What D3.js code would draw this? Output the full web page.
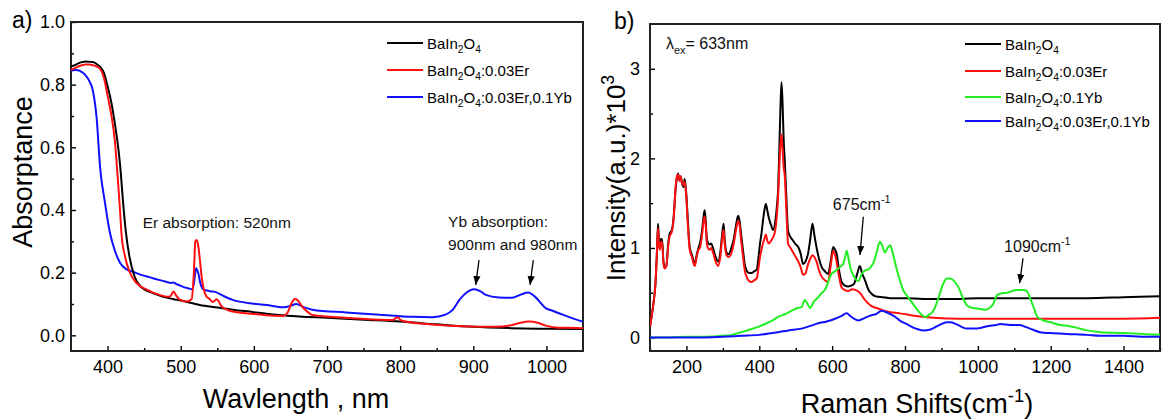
<!DOCTYPE html>
<html>
<head>
<meta charset="utf-8">
<script src="https://cdn.jsdelivr.net/npm/d3@7"></script>
<style>
  html, body { margin: 0; padding: 0; background: #fff; }
  svg { display: block; font-family: "Liberation Sans", Arial, sans-serif; }
</style>
</head>
<body>
<svg id="chart" width="1163" height="420"></svg>
<script>
// ---------- Panel a: absorption spectra (wavelength nm, absorptance) ----------
const absWavelengthTicks = [400, 500, 600, 700, 800, 900, 1000];
const absValueTicks = [0.0, 0.2, 0.4, 0.6, 0.8, 1.0];

const absBaIn2O4 = [
  [350,0.858],[355,0.862],[360,0.868],[365,0.872],[370,0.874],[375,0.873],[380,0.872],[385,0.866],
  [390,0.856],[395,0.838],[400,0.795],[405,0.745],[410,0.675],[415,0.59],[418,0.52],[421,0.43],
  [425,0.33],[430,0.25],[437,0.187],[446,0.154],[454,0.142],[462,0.135],[475,0.124],[489,0.116],
  [500,0.111],[526,0.097],[550,0.089],[571,0.082],[600,0.074],[617,0.069],[640,0.064],[662,0.06],
  [700,0.056],[750,0.05],[800,0.044],[850,0.035],[900,0.027],[950,0.023],[1000,0.021],[1050,0.02]
];
const absEr = [
  [350,0.848],[355,0.852],[360,0.858],[365,0.862],[370,0.864],[375,0.864],[380,0.862],[385,0.858],
  [390,0.85],[395,0.822],[400,0.765],[405,0.705],[410,0.62],[414,0.5],[417,0.4],[419,0.325],
  [424,0.25],[430,0.203],[440,0.166],[453,0.147],[471,0.129],[482,0.123],[486,0.125],[490,0.14],
  [494,0.126],[498,0.115],[508,0.108],[515,0.116],[518,0.2],[520,0.3],[522,0.304],[524,0.285],
  [526,0.246],[529,0.18],[531,0.152],[535,0.125],[539,0.117],[544,0.106],[549,0.115],[552,0.108],
  [556,0.092],[571,0.076],[600,0.068],[617,0.064],[640,0.062],[646,0.072],[651,0.1],[656,0.116],
  [660,0.112],[665,0.095],[671,0.08],[681,0.064],[700,0.06],[726,0.056],[772,0.05],[790,0.049],
  [794,0.055],[797,0.058],[800,0.05],[804,0.046],[840,0.035],[885,0.029],[931,0.027],[953,0.033],
  [966,0.041],[976,0.044],[988,0.04],[999,0.031],[1012,0.025],[1030,0.024],[1050,0.023]
];
const absErYb = [
  [350,0.845],[355,0.847],[360,0.846],[365,0.84],[370,0.83],[375,0.812],[380,0.78],[385,0.695],
  [390,0.53],[396,0.43],[403,0.33],[410,0.27],[417,0.232],[425,0.212],[435,0.203],[446,0.193],
  [458,0.185],[470,0.177],[480,0.171],[487,0.167],[490,0.169],[493,0.165],[500,0.158],[510,0.15],
  [515,0.147],[518,0.165],[521,0.214],[524,0.198],[527,0.165],[531,0.147],[540,0.141],[549,0.137],
  [553,0.132],[560,0.124],[571,0.113],[600,0.101],[617,0.097],[640,0.09],[650,0.094],[658,0.1],
  [668,0.09],[680,0.082],[726,0.073],[772,0.066],[817,0.059],[844,0.058],[862,0.066],[872,0.082],
  [881,0.113],[890,0.135],[901,0.147],[910,0.14],[917,0.129],[935,0.121],[953,0.12],[965,0.13],
  [975,0.137],[985,0.122],[999,0.087],[1010,0.077],[1022,0.066],[1035,0.055],[1050,0.043]
];

// ---------- Panel b: Raman spectra (shift cm-1, intensity x10^3) ----------
const ramanShiftTicks = [200, 400, 600, 800, 1000, 1200, 1400];
const ramanValueTicks = [0, 1, 2, 3];

const ramanBaIn2O4 = [
  [100,0.12],[105,0.25],[110,0.4],[115,0.6],[119,0.95],[122,1.27],[125,1.05],[127,1.0],[130,1.1],
  [133,1.1],[137,0.85],[140,0.78],[145,0.8],[150,1.05],[154,1.16],[160,1.2],[165,1.35],[170,1.65],
  [173,1.76],[177,1.83],[181,1.75],[184,1.8],[188,1.72],[192,1.68],[195,1.77],[198,1.68],[200,1.58],
  [204,1.3],[209,1.01],[215,0.92],[220,0.85],[223,0.82],[228,0.92],[233,1.0],[237,1.05],[243,1.2],
  [247,1.35],[250,1.42],[253,1.3],[256,1.1],[259,1.06],[264,1.04],[268,1.05],[273,1.0],[280,0.9],
  [287,0.85],[293,0.95],[298,1.15],[302,1.27],[305,1.1],[310,0.95],[316,0.93],[324,1.01],[330,1.1],
  [336,1.25],[342,1.36],[346,1.3],[351,1.12],[356,0.95],[360,0.82],[365,0.75],[372,0.72],[379,0.72],
  [386,0.74],[393,0.76],[398,0.9],[402,1.05],[406,1.16],[410,1.3],[414,1.42],[418,1.49],[422,1.42],
  [426,1.34],[432,1.26],[438,1.2],[444,1.3],[448,1.45],[452,1.68],[455,2.1],[458,2.55],[461,2.85],
  [464,2.6],[467,2.2],[470,1.97],[474,1.6],[479,1.19],[486,1.12],[493,1.08],[500,1.04],[507,1.01],
  [514,0.93],[520,0.82],[527,0.85],[534,0.94],[540,1.1],[546,1.27],[551,1.15],[557,1.01],[564,0.88],
  [571,0.79],[580,0.74],[589,0.71],[596,0.85],[603,1.01],[608,0.98],[612,0.94],[619,0.75],[626,0.62],
  [635,0.58],[644,0.57],[652,0.58],[660,0.6],[668,0.7],[676,0.8],[682,0.72],[690,0.64],[700,0.53],
  [708,0.49],[720,0.46],[740,0.45],[760,0.44],[800,0.44],[850,0.43],[900,0.43],[950,0.43],
  [1000,0.44],[1100,0.44],[1200,0.44],[1300,0.44],[1400,0.45],[1500,0.46]
];
const ramanEr = [
  [100,0.12],[105,0.25],[110,0.4],[115,0.6],[119,0.95],[122,1.22],[125,1.02],[127,0.98],[130,1.06],
  [133,1.07],[137,0.83],[140,0.77],[145,0.8],[150,1.02],[154,1.13],[160,1.18],[165,1.33],[170,1.65],
  [173,1.78],[177,1.82],[181,1.75],[184,1.8],[188,1.72],[192,1.7],[195,1.74],[198,1.66],[200,1.55],
  [204,1.25],[209,0.98],[215,0.9],[220,0.82],[223,0.8],[228,0.9],[233,0.98],[237,1.0],[243,1.15],
  [247,1.3],[250,1.35],[253,1.25],[256,1.05],[259,1.0],[264,0.98],[268,1.0],[273,0.95],[280,0.85],
  [287,0.8],[293,0.9],[298,1.1],[302,1.2],[305,1.05],[310,0.92],[316,0.9],[324,0.95],[330,1.05],
  [336,1.2],[342,1.3],[346,1.25],[351,1.05],[356,0.88],[360,0.75],[365,0.68],[372,0.63],[379,0.62],
  [386,0.64],[393,0.66],[398,0.78],[402,0.9],[406,0.98],[410,1.05],[414,1.1],[418,1.15],[422,1.08],
  [426,1.05],[432,1.08],[438,1.12],[444,1.2],[448,1.35],[452,1.6],[455,1.9],[458,2.15],[461,2.27],
  [464,2.1],[467,1.9],[470,1.8],[474,1.45],[479,1.05],[486,1.0],[493,0.95],[500,0.9],[507,0.85],
  [514,0.78],[520,0.7],[527,0.72],[534,0.82],[540,0.88],[546,0.92],[551,0.9],[557,0.85],[564,0.75],
  [571,0.68],[580,0.64],[589,0.62],[596,0.8],[603,0.97],[608,0.92],[612,0.85],[619,0.68],[626,0.56],
  [635,0.53],[644,0.52],[655,0.54],[665,0.53],[676,0.5],[690,0.42],[708,0.35],[722,0.33],[750,0.29],
  [786,0.27],[830,0.24],[877,0.22],[950,0.21],[1000,0.21],[1100,0.21],[1200,0.21],[1300,0.21],
  [1400,0.21],[1500,0.22]
];
const ramanYb = [
  [100,0.0],[150,0.0],[200,0.01],[250,0.01],[300,0.02],[324,0.03],[350,0.06],[375,0.09],[397,0.12],
  [420,0.16],[440,0.2],[452,0.23],[470,0.26],[489,0.3],[505,0.33],[516,0.34],[525,0.42],[532,0.38],
  [539,0.33],[550,0.4],[562,0.45],[572,0.5],[580,0.53],[590,0.63],[598,0.71],[608,0.74],[617,0.77],
  [625,0.8],[630,0.82],[636,0.9],[640,0.97],[645,0.88],[650,0.78],[660,0.68],[667,0.64],[672,0.63],
  [680,0.7],[690,0.75],[700,0.76],[708,0.8],[715,0.85],[722,0.95],[731,1.07],[738,1.02],[745,0.95],
  [752,1.0],[759,1.03],[766,0.95],[775,0.8],[786,0.64],[795,0.53],[805,0.47],[814,0.42],[830,0.33],
  [842,0.27],[855,0.23],[868,0.26],[878,0.3],[890,0.42],[905,0.6],[915,0.66],[924,0.66],[935,0.63],
  [947,0.56],[958,0.45],[970,0.36],[985,0.33],[1006,0.32],[1020,0.31],[1035,0.34],[1043,0.38],
  [1052,0.47],[1061,0.49],[1080,0.5],[1107,0.53],[1125,0.53],[1134,0.52],[1145,0.42],[1153,0.34],
  [1162,0.24],[1175,0.2],[1200,0.17],[1226,0.14],[1250,0.13],[1280,0.1],[1300,0.08],[1336,0.06],
  [1400,0.05],[1450,0.04],[1500,0.03]
];
const ramanErYb = [
  [100,0.0],[200,0.0],[300,0.01],[350,0.02],[400,0.03],[452,0.06],[480,0.08],[516,0.1],[540,0.13],
  [562,0.16],[585,0.18],[608,0.21],[625,0.24],[640,0.27],[650,0.24],[660,0.21],[672,0.19],[690,0.22],
  [708,0.25],[720,0.26],[736,0.3],[750,0.28],[770,0.24],[786,0.19],[805,0.15],[830,0.1],[850,0.08],
  [870,0.09],[890,0.13],[905,0.16],[915,0.17],[924,0.17],[940,0.15],[955,0.12],[970,0.1],[990,0.1],
  [1010,0.11],[1030,0.13],[1050,0.14],[1061,0.15],[1090,0.14],[1115,0.14],[1130,0.12],[1150,0.09],
  [1171,0.06],[1200,0.05],[1244,0.04],[1300,0.03],[1336,0.02],[1400,0.02],[1450,0.01],[1500,0.01]
];

// ---------- drawing ----------
const FONT = "Liberation Sans, Arial, sans-serif";
const svg = d3.select("#chart");
svg.append("rect").attr("width", 1163).attr("height", 420).attr("fill", "#fff");

svg.append("defs").append("marker")
  .attr("id", "arrowhead").attr("viewBox", "0 0 10 10")
  .attr("refX", 10).attr("refY", 5)
  .attr("markerWidth", 9).attr("markerHeight", 9)
  .attr("markerUnits", "userSpaceOnUse")
  .attr("orient", "auto")
  .append("path").attr("d", "M0,1 L10,5 L0,9 Z").attr("fill", "#000");

// Text with subscript / superscript parts; the baseline is restored after each shifted part
function richText(sel, parts, size) {
  let carry = 0;
  parts.forEach(p => {
    const t = sel.append("tspan").text(p.t);
    let dy = carry;
    carry = 0;
    if (p.sub) { t.attr("font-size", size * 0.68); dy += size * 0.32; carry = -size * 0.32; }
    if (p.sup) { t.attr("font-size", size * 0.68); dy -= size * 0.42; carry = size * 0.42; }
    if (dy !== 0) t.attr("dy", dy);
  });
}

function drawFrameAndAxes(g, x, y, cfg) {
  const [x0, x1] = x.range();
  const [y0, y1] = y.range();
  // ticks point into the plot area
  g.append("g").attr("transform", `translate(0,${y0})`)
    .call(d3.axisBottom(x).tickValues(cfg.xMinor).tickFormat("").tickSizeInner(-3).tickSizeOuter(0))
    .call(a => a.select(".domain").remove());
  g.append("g").attr("transform", `translate(0,${y0})`)
    .call(d3.axisBottom(x).tickValues(cfg.xTicks).tickFormat(cfg.xFormat).tickSizeInner(-5).tickSizeOuter(0).tickPadding(9))
    .call(a => a.select(".domain").remove())
    .call(a => a.selectAll("text").attr("font-size", 18).attr("fill", "#000").attr("font-family", FONT));
  g.append("g").attr("transform", `translate(${x0},0)`)
    .call(d3.axisLeft(y).tickValues(cfg.yMinor).tickFormat("").tickSizeInner(-3).tickSizeOuter(0))
    .call(a => a.select(".domain").remove());
  g.append("g").attr("transform", `translate(${x0},0)`)
    .call(d3.axisLeft(y).tickValues(cfg.yTicks).tickFormat(cfg.yFormat).tickSizeInner(-5).tickSizeOuter(0).tickPadding(cfg.yPad))
    .call(a => a.select(".domain").remove())
    .call(a => a.selectAll("text").attr("font-size", 18).attr("fill", "#000").attr("font-family", FONT));
  g.selectAll(".tick line").attr("stroke", "#000").attr("stroke-width", 1.4);
  g.append("rect")
    .attr("x", x0).attr("y", y1).attr("width", x1 - x0).attr("height", y0 - y1)
    .attr("fill", "none").attr("stroke", "#222").attr("stroke-width", 2);
}

function drawSeries(g, x, y, series, width, clipId) {
  const line = d3.line().x(d => x(d[0])).y(d => y(d[1])).curve(d3.curveMonotoneX);
  g.append("clipPath").attr("id", clipId).append("rect")
    .attr("x", x.range()[0]).attr("y", y.range()[1])
    .attr("width", x.range()[1] - x.range()[0]).attr("height", y.range()[0] - y.range()[1]);
  const lg = g.append("g").attr("clip-path", `url(#${clipId})`);
  series.forEach(s => {
    lg.append("path").datum(s.data).attr("d", line)
      .attr("fill", "none").attr("stroke", s.color).attr("stroke-width", width)
      .attr("stroke-linejoin", "round");
  });
}

function drawLegend(g, items, x, rowsY, len) {
  items.forEach((it, i) => {
    const yy = rowsY[i];
    g.append("line").attr("x1", x).attr("x2", x + len).attr("y1", yy).attr("y2", yy)
      .attr("stroke", it.color).attr("stroke-width", 2);
    const t = g.append("text").attr("x", x + len + 4).attr("y", yy + 5.5)
      .attr("font-size", 15).attr("fill", "#000");
    richText(t, it.label, 15);
  });
}

function formulaLabel(suffix) {
  const parts = [{t: "BaIn"}, {t: "2", sub: true}, {t: "O"}, {t: "4", sub: true}];
  if (suffix) parts.push({t: suffix});
  return parts;
}

const BLACK = "#000", RED = "#ff1010", BLUE = "#1010ff", GREEN = "#22ee22";

// ---- panel a ----
const gA = svg.append("g");
const xA = d3.scaleLinear().domain([350, 1050]).range([71, 583]);
const yA = d3.scaleLinear().domain([-0.05, 1.0]).range([351, 22]);

drawFrameAndAxes(gA, xA, yA, {
  xTicks: absWavelengthTicks, xMinor: [450, 550, 650, 750, 850, 950],
  xFormat: d3.format("d"),
  yTicks: absValueTicks, yMinor: [0.1, 0.3, 0.5, 0.7, 0.9],
  yFormat: d3.format(".1f"), yPad: 6
});
drawSeries(gA, xA, yA, [
  {data: absErYb, color: BLUE},
  {data: absBaIn2O4, color: BLACK},
  {data: absEr, color: RED}
], 2, "clipAbs");

drawLegend(gA, [
  {color: BLACK, label: formulaLabel("")},
  {color: RED, label: formulaLabel(":0.03Er")},
  {color: BLUE, label: formulaLabel(":0.03Er,0.1Yb")}
], 387, [43, 70, 97], 36);

const absNotes = [
  {text: "Er absorption: 520nm", wl: 448, a: 0.343},
  {text: "Yb absorption:", wl: 865.5, a: 0.346},
  {text: "900nm and 980nm", wl: 865.5, a: 0.272}
];
absNotes.forEach(n => {
  gA.append("text").attr("x", xA(n.wl)).attr("y", yA(n.a))
    .attr("font-size", 15.5).attr("fill", "#111").text(n.text);
});
const absArrows = [
  {from: [907.8, 0.240], to: [903.3, 0.161]},
  {from: [982.0, 0.240], to: [977.6, 0.161]}
];
absArrows.forEach(a => {
  gA.append("line")
    .attr("x1", xA(a.from[0])).attr("y1", yA(a.from[1]))
    .attr("x2", xA(a.to[0])).attr("y2", yA(a.to[1]))
    .attr("stroke", "#000").attr("stroke-width", 1.3).attr("marker-end", "url(#arrowhead)");
});

gA.append("text").attr("x", 296).attr("y", 408).attr("text-anchor", "middle")
  .attr("font-size", 27).attr("fill", "#000").text("Wavlength , nm");
gA.append("text").attr("transform", "translate(32,172) rotate(-90)").attr("text-anchor", "middle")
  .attr("font-size", 27).attr("fill", "#000").text("Absorptance");
gA.append("text").attr("x", 12).attr("y", 28).attr("font-size", 23).attr("fill", "#000").text("a)");

// ---- panel b ----
const gB = svg.append("g");
const xB = d3.scaleLinear().domain([100, 1500]).range([650, 1160]);
const yB = d3.scaleLinear().domain([-0.15, 3.5]).range([351, 24]);

drawFrameAndAxes(gB, xB, yB, {
  xTicks: ramanShiftTicks, xMinor: [100, 300, 500, 700, 900, 1100, 1300, 1500],
  xFormat: d3.format("d"),
  yTicks: ramanValueTicks, yMinor: [0.5, 1.5, 2.5],
  yFormat: d3.format("d"), yPad: 10
});
drawSeries(gB, xB, yB, [
  {data: ramanBaIn2O4, color: BLACK},
  {data: ramanEr, color: RED},
  {data: ramanYb, color: GREEN},
  {data: ramanErYb, color: BLUE}
], 2, "clipRaman");

drawLegend(gB, [
  {color: BLACK, label: formulaLabel("")},
  {color: RED, label: formulaLabel(":0.03Er")},
  {color: GREEN, label: formulaLabel(":0.1Yb")},
  {color: BLUE, label: formulaLabel(":0.03Er,0.1Yb")}
], 965, [44, 71, 97, 121], 36);

const ramanNotes = [
  {parts: [{t: "λ"}, {t: "ex", sub: true}, {t: "= 633nm"}], x: 144, v: 3.221},
  {parts: [{t: "675cm"}, {t: "-1", sup: true}], x: 602, v: 1.424},
  {parts: [{t: "1090cm"}, {t: "-1", sup: true}], x: 1072, v: 0.955}
];
ramanNotes.forEach(n => {
  const t = gB.append("text").attr("x", xB(n.x)).attr("y", yB(n.v))
    .attr("font-size", 16).attr("fill", "#111");
  richText(t, n.parts, 16);
});
const ramanArrows = [
  {from: [685.5, 1.349], to: [676.4, 0.922]},
  {from: [1124.0, 0.885], to: [1114.6, 0.606]}
];
ramanArrows.forEach(a => {
  gB.append("line")
    .attr("x1", xB(a.from[0])).attr("y1", yB(a.from[1]))
    .attr("x2", xB(a.to[0])).attr("y2", yB(a.to[1]))
    .attr("stroke", "#000").attr("stroke-width", 1.3).attr("marker-end", "url(#arrowhead)");
});

const xt = gB.append("text").attr("x", 917).attr("y", 413).attr("text-anchor", "middle")
  .attr("font-size", 27).attr("fill", "#000");
richText(xt, [{t: "Raman Shifts(cm"}, {t: "-1", sup: true}, {t: ")"}], 27);
const yt = gB.append("text").attr("transform", "translate(625,178) rotate(-90)").attr("text-anchor", "middle")
  .attr("font-size", 26).attr("fill", "#000");
richText(yt, [{t: "Intensity(a.u.)*10"}, {t: "3", sup: true}], 26);
gB.append("text").attr("x", 614).attr("y", 29).attr("font-size", 23).attr("fill", "#000").text("b)");
</script>
</body>
</html>
